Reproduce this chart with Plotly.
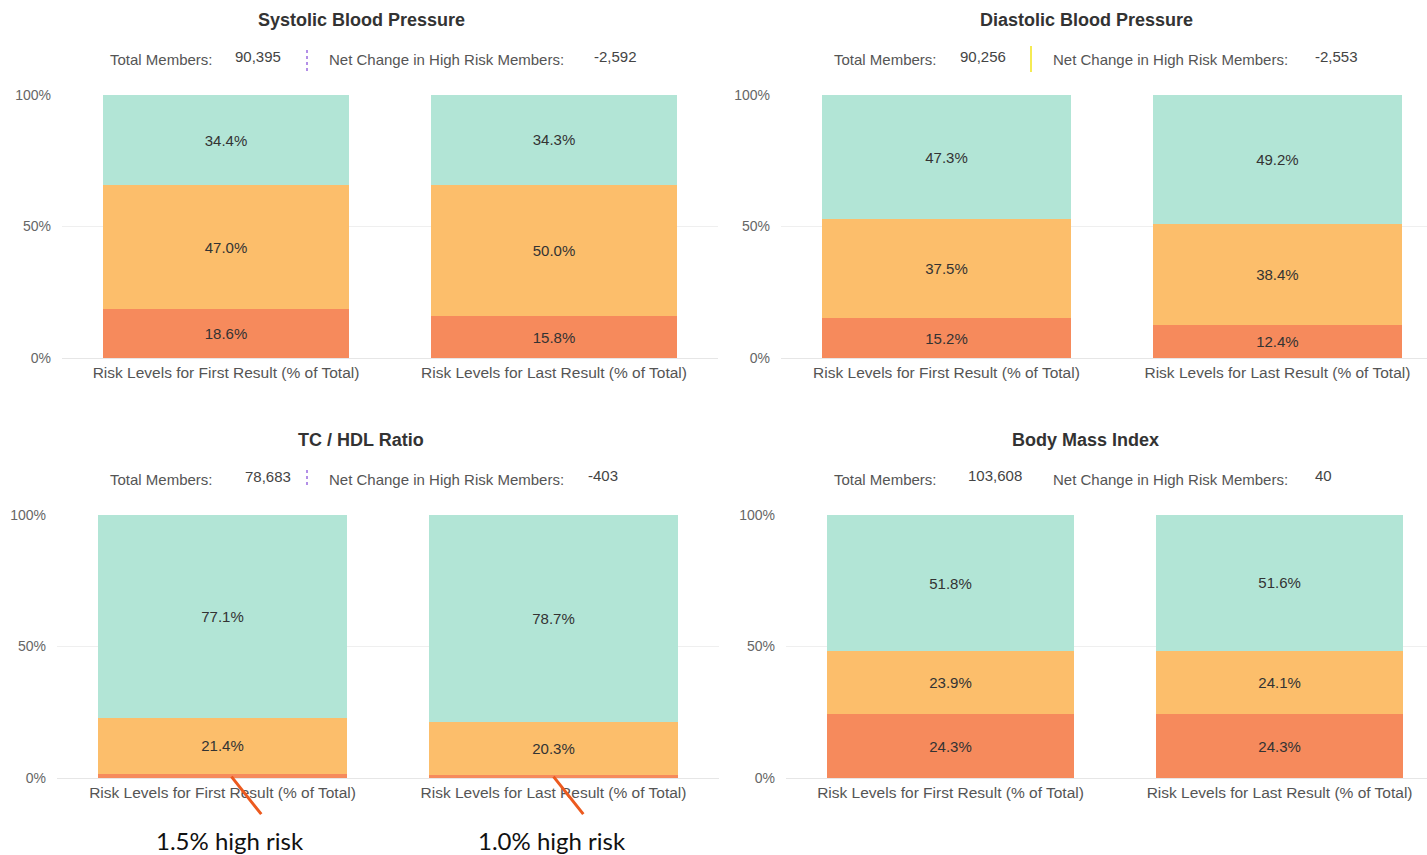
import plotly.graph_objects as go

# ---------------- data ----------------
panel_titles = ["Systolic Blood Pressure", "Diastolic Blood Pressure", "TC / HDL Ratio", "Body Mass Index"]
total_members = ["90,395", "90,256", "78,683", "103,608"]
net_change = ["-2,592", "-2,553", "-403", "40"]
categories = ["Risk Levels for First Result (% of Total)", "Risk Levels for Last Result (% of Total)"]
high_risk = [[18.6, 15.8], [15.2, 12.4], [1.5, 1.0], [24.3, 24.3]]
moderate_risk = [[47.0, 50.0], [37.5, 38.4], [21.4, 20.3], [23.9, 24.1]]
low_risk = [[34.4, 34.3], [47.3, 49.2], [77.1, 78.7], [51.8, 51.6]]
callout_labels = ["1.5% high risk", "1.0% high risk"]
y_ticks = [0, 50, 100]
y_ticktext = ["0%", "50%", "100%"]

# ---------------- style ----------------
W, H = 1427, 855
C_HIGH, C_MOD, C_LOW = "#f68a5c", "#fcbe6b", "#b2e5d6"
FONT = "Liberation Sans, Arial, sans-serif"

def px_x(p):
    return p / W

def px_y(p):
    return 1 - p / H

# plot areas in pixels: (x0, x1, y_top, y_bottom, x_range_max)
areas = [
    (62, 718, 95, 358, 1.5),
    (781, 1427, 95, 358, 1.452),
    (57, 719, 515, 778, 1.5),
    (786, 1427, 515, 778, 1.448),
]

fig = go.Figure()
layout = dict(
    width=W, height=H, margin=dict(l=0, r=0, t=0, b=0, autoexpand=False),
    paper_bgcolor="white", plot_bgcolor="white",
    barmode="stack", bargap=0.25, showlegend=False,
    font=dict(family=FONT, color="#555"),
    annotations=[], shapes=[],
)

def lbl(v):
    return f"{v:.1f}%" if v >= 3 else ""

for i in range(4):
    xa = "x" if i == 0 else f"x{i+1}"
    ya = "y" if i == 0 else f"y{i+1}"
    for vals, col in [(high_risk[i], C_HIGH), (moderate_risk[i], C_MOD), (low_risk[i], C_LOW)]:
        fig.add_trace(go.Bar(
            x=categories, y=vals, xaxis=xa, yaxis=ya,
            marker=dict(color=col, line=dict(width=0)),
            text=[lbl(v) for v in vals], textposition="inside",
            insidetextanchor="middle", textangle=0, constraintext="none",
            textfont=dict(size=15, color="#333", family=FONT),
            hoverinfo="skip",
        ))
    x0, x1, yt, yb, xmax = areas[i]
    xk = "xaxis" if i == 0 else f"xaxis{i+1}"
    yk = "yaxis" if i == 0 else f"yaxis{i+1}"
    layout[xk] = dict(
        domain=[px_x(x0), px_x(x1)], anchor=ya, range=[-0.5, xmax], automargin=False,
        showgrid=False, showline=True, linecolor="#e6e6e6", linewidth=1,
        ticks="", tickfont=dict(size=15.5, color="#555"), fixedrange=True,
    )
    layout[yk] = dict(
        domain=[px_y(yb), px_y(yt)], anchor=xa, range=[0, 100], automargin=False,
        tickvals=y_ticks, ticktext=y_ticktext, showgrid=True,
        gridcolor="#efefef", zeroline=False, showline=False,
        ticks="", ticklabelstandoff=10,
        tickfont=dict(size=14, color="#666"), fixedrange=True,
    )

# ---------------- headers ----------------
headers = [
    # title_x, title_y, row_y, tm_label_x, tm_val_x, nc_label_x, nc_val_x, val_dy
    (361, 20, 59, 108, 233, 327, 592, 2),
    (1086, 20, 59, 832, 958, 1051, 1313, 2),
    (361, 440, 479, 108, 243, 327, 586, 2),
    (1085, 440, 479, 832, 966, 1051, 1313, 4),
]
for i, (tx, ty, ry, a, b, c, d, dy) in enumerate(headers):
    anns = layout["annotations"]
    anns.append(dict(x=px_x(tx), y=px_y(ty), xref="paper", yref="paper", text=f"<b>{panel_titles[i]}</b>",
                     showarrow=False, xanchor="center", yanchor="middle",
                     font=dict(size=18, color="#333", family=FONT)))
    anns.append(dict(x=px_x(a), y=px_y(ry), xref="paper", yref="paper", text="Total Members:",
                     showarrow=False, xanchor="left", yanchor="middle", font=dict(size=15, color="#555")))
    anns.append(dict(x=px_x(b), y=px_y(ry - dy), xref="paper", yref="paper", text=total_members[i],
                     showarrow=False, xanchor="left", yanchor="middle", font=dict(size=15, color="#444")))
    anns.append(dict(x=px_x(c), y=px_y(ry), xref="paper", yref="paper", text="Net Change in High Risk Members:",
                     showarrow=False, xanchor="left", yanchor="middle", font=dict(size=15, color="#555")))
    anns.append(dict(x=px_x(d), y=px_y(ry - dy - (2 if i == 2 else 0)), xref="paper", yref="paper", text=net_change[i],
                     showarrow=False, xanchor="left", yanchor="middle", font=dict(size=15, color="#444")))

# separators
for sx, sy0, sy1, col, dash in [(307, 50, 71, "#9b6be0", "dot"), (1031, 46, 72, "#f2e51a", "solid"),
                                (307, 470, 488, "#9b6be0", "dot")]:
    layout["shapes"].append(dict(type="line", xref="paper", yref="paper",
                                 x0=px_x(sx), x1=px_x(sx), y0=px_y(sy0), y1=px_y(sy1),
                                 line=dict(color=col, width=1.5, dash=dash)))

# ---------------- callouts for tiny high-risk segments (TC / HDL) ----------------
callout_offsets = [(0.027, 0.023), (0.0, -0.004)]
for j, cat_pos in enumerate([0, 1]):
    line_dx, text_dx = callout_offsets[j]
    layout["annotations"].append(dict(
        x=cat_pos + line_dx, y=0.5, xref="x3", yref="y3", ax=31, ay=39, axref="pixel", ayref="pixel",
        text="", showarrow=True, arrowhead=0, arrowwidth=3, arrowcolor="#ec5a1f", standoff=0, startstandoff=0,
    ))
    layout["annotations"].append(dict(
        x=cat_pos + text_dx, y=px_y(840), xref="x3", yref="paper", text=callout_labels[j],
        showarrow=False, xanchor="center", yanchor="middle",
        font=dict(size=24, color="#111", family="Lato, Carlito, sans-serif"),
    ))

fig.update_layout(**layout)
fig.write_html("out.html")
